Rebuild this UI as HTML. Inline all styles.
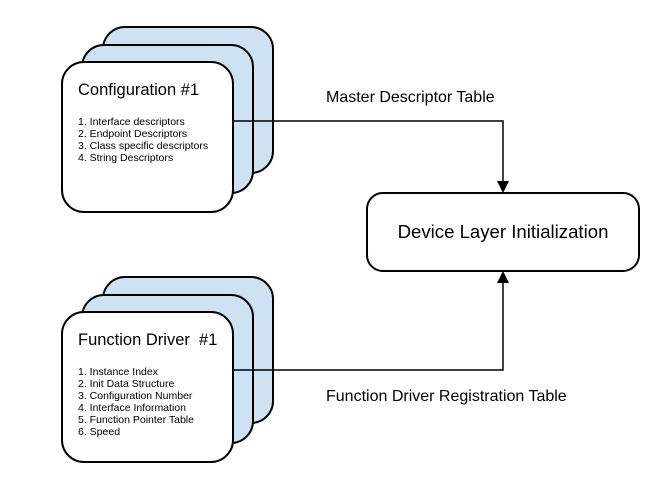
<!DOCTYPE html>
<html><head><style>body{margin:0;background:#fff}</style></head><body>
<svg width="659" height="485" xmlns="http://www.w3.org/2000/svg" font-family="Liberation Sans, sans-serif">
<g stroke="#000" stroke-width="2">
<rect x="103" y="27" width="170" height="146" rx="22" fill="#cfe2f3"/>
<rect x="82" y="45" width="171" height="148" rx="22" fill="#cfe2f3"/>
<rect x="62" y="62" width="171" height="150" rx="22" fill="#fff"/>
<rect x="103" y="277" width="170" height="146" rx="22" fill="#cfe2f3"/>
<rect x="82" y="295" width="171" height="148" rx="22" fill="#cfe2f3"/>
<rect x="62" y="312" width="171" height="150" rx="22" fill="#fff"/>
<rect x="367" y="193" width="272" height="78" rx="16" fill="#fff"/>
<polyline points="233,121 503,121 503,182" fill="none" stroke-width="1.5"/>
<polyline points="233,370 503,370 503,282" fill="none" stroke-width="1.5"/>
</g>
<polygon points="497,181 509,181 503,193" fill="#000"/>
<polygon points="497,283 509,283 503,271" fill="#000"/>
<g fill="#000">
<text x="78" y="95" font-size="16.5">Configuration #1</text>
<text x="78" y="125" font-size="10.5">1. Interface descriptors</text>
<text x="78" y="137" font-size="10.5">2. Endpoint Descriptors</text>
<text x="78" y="149" font-size="10.5">3. Class specific descriptors</text>
<text x="78" y="161" font-size="10.5">4. String Descriptors</text>
<text x="78" y="345" font-size="16.5" xml:space="preserve">Function Driver  #1</text>
<text x="78" y="375" font-size="10.5">1. Instance Index</text>
<text x="78" y="387" font-size="10.5">2. Init Data Structure</text>
<text x="78" y="399" font-size="10.5">3. Configuration Number</text>
<text x="78" y="411" font-size="10.5">4. Interface Information</text>
<text x="78" y="423" font-size="10.5">5. Function Pointer Table</text>
<text x="78" y="435" font-size="10.5">6. Speed</text>
<text x="503" y="238" font-size="18.6" text-anchor="middle">Device Layer Initialization</text>
<text x="326" y="102" font-size="16">Master Descriptor Table</text>
<text x="326" y="401" font-size="16">Function Driver Registration Table</text>
</g>
</svg>
</body></html>
